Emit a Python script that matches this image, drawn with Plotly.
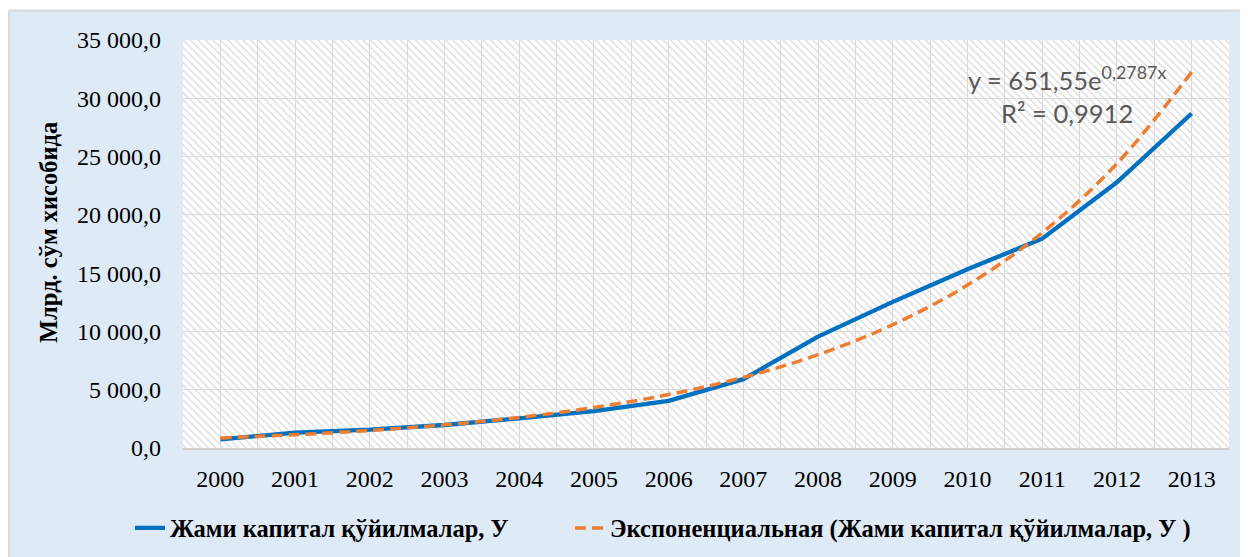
import base64
import plotly.graph_objects as go

years = [2000, 2001, 2002, 2003, 2004, 2005, 2006, 2007, 2008, 2009, 2010, 2011, 2012, 2013]
investment = [744.5, 1320.9, 1572.1, 1972.6, 2540.2, 3165.2, 4041.0, 5903.6, 9555.7,
              12531.8, 15338.7, 17953.4, 22797.3, 28694.7]
trend = [861, 1138, 1503, 1987, 2625, 3469, 4584, 6057, 8003, 10576, 13975, 18466, 24401, 32244]

y_ticks = [0, 5000, 10000, 15000, 20000, 25000, 30000, 35000]
y_ticktext = ["0,0", "5 000,0", "10 000,0", "15 000,0", "20 000,0", "25 000,0", "30 000,0", "35 000,0"]

series_name = "Жами капитал қўйилмалар, У"
trend_name = "Экспоненциальная (Жами капитал қўйилмалар, У )"
y_title = "Млрд. сўм хисобида"
equation = "y = 651,55e<sup>0,2787x</sup><br>R² = 0,9912"

# page has an 8px body margin; work in page pixels and convert
OFF = 8
W, H = 1248 - OFF, 557 - OFF
L, R, T, B = 183 - OFF, 1229 - OFF, 40 - OFF, 448 - OFF
PW, PH = R - L, B - T


def xp(page_px):
    return (page_px - OFF - L) / PW


def yp(page_py):
    return (B - (page_py - OFF)) / PH


svg = (
    f"<svg xmlns='http://www.w3.org/2000/svg' width='{PW}' height='{PH}'>"
    "<defs><pattern id='p' patternUnits='userSpaceOnUse' width='7.5' height='7.5'>"
    "<path d='M-1,-1 L8.5,8.5 M6.5,-1 L8.5,1 M-1,6.5 L1,8.5' stroke='#DBDBDB' stroke-width='1.4'/>"
    "</pattern></defs>"
    "<rect width='100%' height='100%' fill='white'/>"
    "<rect width='100%' height='100%' fill='url(#p)'/></svg>"
)
svg_uri = "data:image/svg+xml;base64," + base64.b64encode(svg.encode()).decode()

fig = go.Figure()
fig.add_trace(go.Scatter(
    x=years, y=investment, mode="lines", name=series_name, legend="legend",
    line=dict(color="#0070C0", width=4.3),
))
fig.add_trace(go.Scatter(
    x=years, y=trend, mode="lines", name=trend_name, legend="legend2", line_shape="spline",
    line=dict(color="#ED7D31", width=3.5, dash="11px,6px"),
))

legend_font = dict(family="Liberation Serif", size=24.5, color="black", weight="bold")
grid = "#D9D9D9"
fig.update_layout(
    width=W, height=H,
    margin=dict(l=L, r=W - R, t=T, b=H - B, pad=0, autoexpand=False),
    paper_bgcolor="#DEEBF7",
    plot_bgcolor="rgba(0,0,0,0)",
    showlegend=True,
    legend=dict(
        orientation="h", x=xp(130), xanchor="left", y=yp(528), yanchor="middle",
        font=legend_font, bgcolor="rgba(0,0,0,0)",
    ),
    legend2=dict(
        orientation="h", x=xp(570), xanchor="left", y=yp(528), yanchor="middle",
        font=legend_font, bgcolor="rgba(0,0,0,0)",
    ),
    xaxis=dict(
        range=[1999.5, 2013.5], tickvals=years, ticktext=[str(y) for y in years],
        showgrid=True, gridcolor=grid, gridwidth=1.3,
        minor=dict(tickvals=[y - 0.5 for y in years] + [2013.5], showgrid=True,
                   gridcolor=grid, gridwidth=1.3, ticks=""),
        showline=True, linecolor="#D0D0D0", linewidth=2, zeroline=False,
        ticks="", ticklabelstandoff=8,
        tickfont=dict(family="Liberation Serif", size=24, color="black"),
        fixedrange=True,
    ),
    yaxis=dict(
        range=[0, 35000], tickvals=y_ticks, ticktext=y_ticktext,
        showgrid=True, gridcolor=grid, gridwidth=1.3, zeroline=False,
        ticks="", ticklabelstandoff=21,
        tickfont=dict(family="Liberation Serif", size=24, color="black"),
        fixedrange=True,
    ),
    images=[dict(source=svg_uri, xref="paper", yref="paper", x=0, y=1, sizex=1, sizey=1,
                 xanchor="left", yanchor="top", sizing="stretch", layer="below")],
    shapes=[
        dict(type="rect", xref="paper", yref="paper", x0=-1, x1=2, y0=yp(10), y1=2,
             fillcolor="white", line=dict(width=0), layer="below"),
        dict(type="line", xref="paper", yref="paper", x0=xp(9), x1=xp(9), y0=-1, y1=yp(10.5),
             line=dict(color="#D9D9D9", width=2), layer="below"),
        dict(type="line", xref="paper", yref="paper", x0=xp(9), x1=2, y0=yp(10.5), y1=yp(10.5),
             line=dict(color="#D9D9D9", width=2), layer="below"),
    ],
    annotations=[
        dict(text=equation, x=2011.33, y=30350, xref="x", yref="y", showarrow=False,
             xanchor="center", yanchor="middle", align="center",
             font=dict(family="Lato", size=25.5, color="#595959")),
        dict(text="<b>" + y_title + "</b>", x=xp(48), y=yp(233), xref="paper", yref="paper",
             showarrow=False, textangle=-90, xanchor="center", yanchor="middle",
             font=dict(family="Liberation Serif", size=24.5, color="black")),
    ],
)

fig.write_html("out.html")
